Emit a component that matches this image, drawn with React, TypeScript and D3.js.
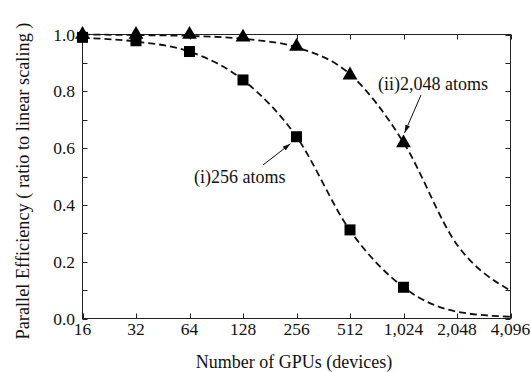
import { useEffect, useRef } from 'react'
import * as d3 from 'd3'

const GPUS = [16, 32, 64, 128, 256, 512, 1024]
const EFF_256 = [0.99, 0.978, 0.94, 0.84, 0.64, 0.312, 0.11]
const EFF_2048 = [1.0, 1.0, 1.0, 0.99, 0.958, 0.857, 0.618]

// dashed fit curves at each octave
const FIT_X = [16, 32, 64, 128, 256, 512, 1024, 2048, 4096]
const FIT_256 = [0.988, 0.975, 0.94, 0.84, 0.64, 0.31, 0.11, 0.024, 0.006]
const FIT_2048 = [1.0, 0.998, 0.995, 0.985, 0.955, 0.86, 0.62, 0.26, 0.098]

const X_TICKS = [16, 32, 64, 128, 256, 512, 1024, 2048, 4096]
const Y_TICKS = [0, 0.2, 0.4, 0.6, 0.8, 1.0]
const Y_MINOR = [0, 0.1, 0.2, 0.3, 0.4, 0.5, 0.6, 0.7, 0.8, 0.9, 1.0]

const FONT = 'Liberation Serif'

export default function App() {
  const svgRef = useRef<SVGSVGElement | null>(null)

  useEffect(() => {
    if (!svgRef.current) return
    const svg = d3.select(svgRef.current)
    svg.selectAll('*').remove()

    const left = 82.5, right = 510.5, top = 34.5, bottom = 318.5
    const x = d3.scaleLog().base(2).domain([16, 4096]).range([left, right])
    const y = d3.scaleLinear().domain([0, 1]).range([bottom, top])

    const defs = svg.append('defs')
    defs.append('marker')
      .attr('id', 'arr').attr('viewBox', '0 0 10 6')
      .attr('refX', 10).attr('refY', 3)
      .attr('markerWidth', 8).attr('markerHeight', 5)
      .attr('markerUnits', 'userSpaceOnUse')
      .attr('orient', 'auto')
      .append('path').attr('d', 'M0,0 L10,3 L0,6 Z').attr('fill', '#111')

    // frame
    svg.append('rect')
      .attr('x', left).attr('y', top)
      .attr('width', right - left).attr('height', bottom - top)
      .attr('fill', 'none').attr('stroke', '#222').attr('stroke-width', 1)

    // ticks (inward, all four sides)
    Y_MINOR.forEach(v => {
      const py = Math.round(y(v)) + 0.5
      svg.append('line').attr('x1', left).attr('x2', left + 5)
        .attr('y1', py).attr('y2', py).attr('stroke', '#222')
      svg.append('line').attr('x1', right).attr('x2', right - 5)
        .attr('y1', py).attr('y2', py).attr('stroke', '#222')
    })
    X_TICKS.forEach(v => {
      const px = Math.round(x(v)) + 0.5
      svg.append('line').attr('x1', px).attr('x2', px)
        .attr('y1', bottom).attr('y2', bottom - 5).attr('stroke', '#222')
      svg.append('line').attr('x1', px).attr('x2', px)
        .attr('y1', top).attr('y2', top + 5).attr('stroke', '#222')
    })

    // tick labels
    const fmt = d3.format(',')
    svg.append('g').selectAll('text').data(X_TICKS).join('text')
      .attr('x', d => x(d)).attr('y', 335)
      .attr('text-anchor', 'middle')
      .style('font-family', FONT).style('font-size', '17.5px').attr('fill', '#111')
      .text(d => fmt(d))
    svg.append('g').selectAll('text').data(Y_TICKS).join('text')
      .attr('x', 75).attr('y', d => y(d))
      .attr('dy', '0.35em')
      .attr('text-anchor', 'end')
      .style('font-family', FONT).style('font-size', '17.5px').attr('fill', '#111')
      .text(d => d.toFixed(1))

    // axis titles
    svg.append('text')
      .attr('x', 294).attr('y', 368)
      .attr('text-anchor', 'middle')
      .style('font-family', FONT).style('font-size', '18px').attr('fill', '#111')
      .text('Number of GPUs (devices)')
    svg.append('text')
      .attr('transform', 'translate(29,181) rotate(-90)')
      .attr('text-anchor', 'middle')
      .style('font-family', FONT).style('font-size', '18.3px').attr('fill', '#111')
      .text('Parallel Efficiency ( ratio to linear scaling )')

    // fit curves
    const line = d3.line<number>()
      .x((_, i) => x(FIT_X[i]))
      .y(d => y(d))
      .curve(d3.curveMonotoneX)
    ;[FIT_256, FIT_2048].forEach(series => {
      svg.append('path')
        .datum(series)
        .attr('d', line)
        .attr('fill', 'none').attr('stroke', '#111')
        .attr('stroke-width', 1.8).attr('stroke-dasharray', '7,4')
    })

    // markers
    svg.append('g').selectAll('rect').data(GPUS).join('rect')
      .attr('x', d => x(d) - 5.5)
      .attr('y', (_, i) => y(EFF_256[i]) - 5.5)
      .attr('width', 11).attr('height', 11)
      .attr('fill', '#000')
    const tri = d3.symbol().type(d3.symbolTriangle).size(95)
    svg.append('g').selectAll('path').data(GPUS).join('path')
      .attr('transform', (d, i) => `translate(${x(d)},${y(EFF_2048[i])})`)
      .attr('d', tri)
      .attr('fill', '#000')

    // annotations
    svg.append('text')
      .attr('x', 194).attr('y', 183)
      .style('font-family', FONT).style('font-size', '18px').attr('fill', '#111')
      .text('(i)256 atoms')
    svg.append('line')
      .attr('x1', 263).attr('y1', 165)
      .attr('x2', x(256) - 6).attr('y2', y(0.64) + 7)
      .attr('stroke', '#111').attr('stroke-width', 1)
      .attr('marker-end', 'url(#arr)')

    svg.append('text')
      .attr('x', 378).attr('y', 90)
      .style('font-family', FONT).style('font-size', '18px').attr('fill', '#111')
      .text('(ii)2,048 atoms')
    svg.append('line')
      .attr('x1', 421).attr('y1', 95)
      .attr('x2', x(1024) + 1).attr('y2', y(0.618) - 10)
      .attr('stroke', '#111').attr('stroke-width', 1)
      .attr('marker-end', 'url(#arr)')
  }, [])

  return (
    <svg
      ref={svgRef}
      width={531}
      height={372}
      style={{ position: 'absolute', left: 0, top: 0, background: '#fff' }}
    />
  )
}
